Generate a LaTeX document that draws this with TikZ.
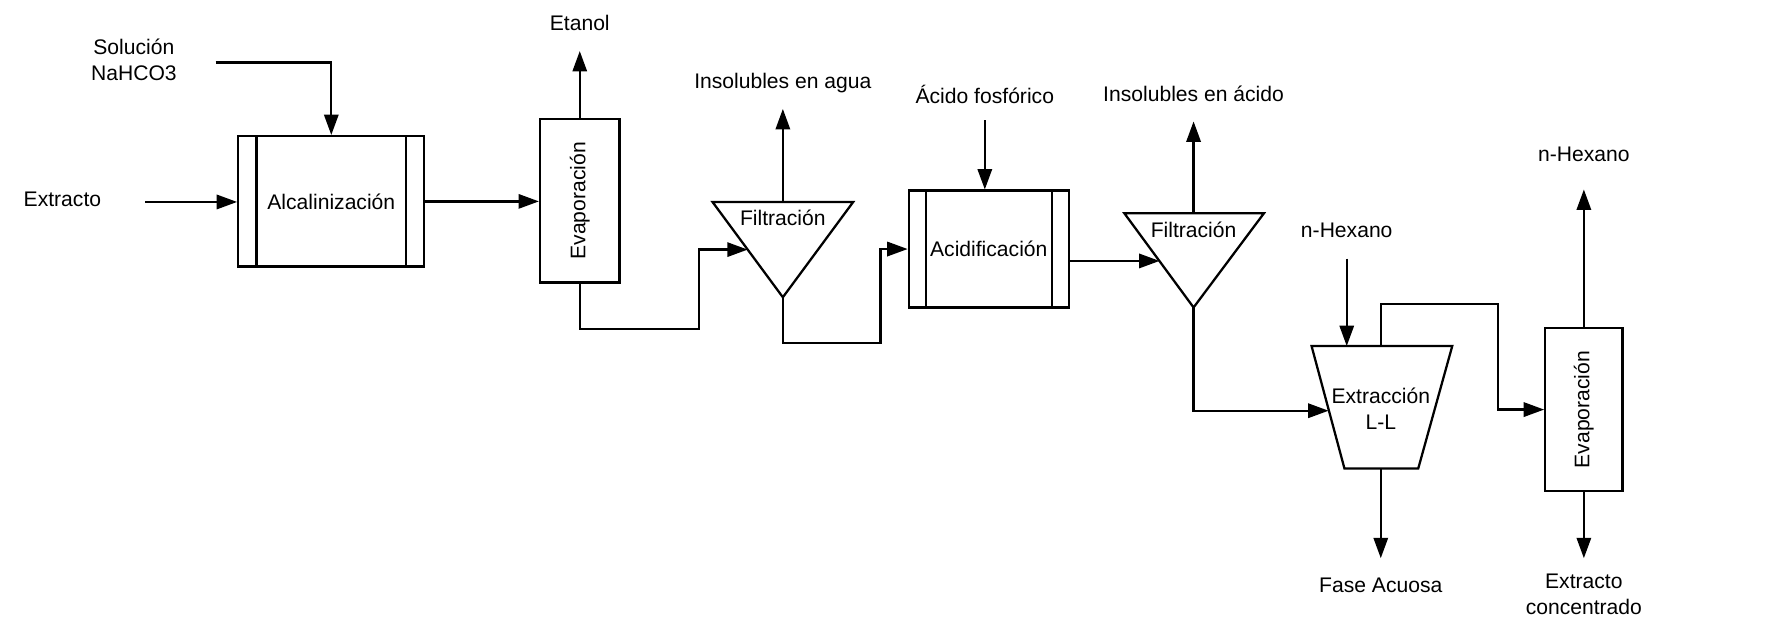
\documentclass[tikz,border=0pt]{standalone}
\usepackage{fontspec}
\setmainfont{Liberation Sans}
\usetikzlibrary{arrows.meta,calc}
\begin{document}
\begin{tikzpicture}[x=0.5pt,y=-0.5pt,
  line width=1pt,
  flow/.style={-{Triangle[length=9pt,width=6.3pt]}},
  lbl/.style={font=\fontsize{9.3}{11.5}\selectfont, align=center, inner sep=0pt},
  unit/.style={draw, line width=1pt, inner sep=0pt, font=\fontsize{9.3}{11.5}\selectfont, align=center},
]
\useasboundingbox (0,0) rectangle (1568,557);

% units
\node[unit, minimum width=82pt, minimum height=57.5pt] (alc) at (292,177.5) {Alcalinizaci\'on};
\draw ($(alc.north west)+(17,0)$) -- ($(alc.south west)+(17,0)$);
\draw ($(alc.north east)+(-17,0)$) -- ($(alc.south east)+(-17,0)$);

\node[unit, minimum width=35pt, minimum height=72pt] (ev1) at (511,177) {};
\node[lbl, rotate=90] (ev1t) at (ev1) {Evaporaci\'on};

\node[unit, minimum width=70.5pt, minimum height=51.5pt] (acid) at (871.5,219.5) {Acidificaci\'on};
\draw ($(acid.north west)+(16,0)$) -- ($(acid.south west)+(16,0)$);
\draw ($(acid.north east)+(-16,0)$) -- ($(acid.south east)+(-16,0)$);

\node[unit, minimum width=34pt, minimum height=72pt] (ev2) at (1396,361) {};
\node[lbl, rotate=90] (ev2t) at (ev2) {Evaporaci\'on};

% filter 1
\coordinate (f1tl) at (628,178);
\coordinate (f1tr) at (752,178);
\coordinate (f1b) at (690,262);
\coordinate (f1top) at (690,178);
\coordinate (f1in) at (659,220);
\draw (f1tl) -- (f1tr) -- (f1b) -- cycle;
\node[lbl] (f1) at (690,192) {Filtraci\'on};

% filter 2
\coordinate (f2tl) at (991,188);
\coordinate (f2tr) at (1114,188);
\coordinate (f2b) at (1052,271);
\coordinate (f2top) at (1052,188);
\coordinate (f2in) at (1022,230);
\draw (f2tl) -- (f2tr) -- (f2b) -- cycle;
\node[lbl] (f2) at (1052,203) {Filtraci\'on};

% extraction
\coordinate (xtl) at (1156,305);
\coordinate (xtr) at (1280,305);
\coordinate (xbr) at (1250,413);
\coordinate (xbl) at (1185,413);
\coordinate (xin) at (1171,362);
\coordinate (xtop) at (1217,305);
\coordinate (xtin) at (1187,305);
\coordinate (xbot) at (1217,413);
\draw (xtl) -- (xtr) -- (xbr) -- (xbl) -- cycle;
\node[lbl] (xt) at (1217,360) {Extracci\'on\\L-L};

% labels
\node[lbl] (lext) at (55,176) {Extracto};
\node[lbl] (lsol) at (118,53) {Soluci\'on\\NaHCO3};
\node[lbl] (leta) at (511,20) {Etanol};
\node[lbl] (lins1) at (690,73) {Insolubles en agua};
\node[lbl] (lacf) at (868,83) {\'Acido fosf\'orico};
\node[lbl] (lins2) at (1052,83) {Insolubles en \'acido};
\node[lbl] (lhx1) at (1187,203) {n-Hexano};
\node[lbl] (lhx2) at (1396,136) {n-Hexano};
\node[lbl] (lfase) at (1217,516) {Fase Acuosa};
\node[lbl] (lconc) at (1396,524) {Extracto\\concentrado};

% connector ends
\coordinate (exs) at (128,178);
\coordinate (sols) at (190,55);
\coordinate (etae) at (511,45);
\coordinate (c1) at (616,290);
\coordinate (ins1e) at (690,96);
\coordinate (c2) at (776,302);
\coordinate (acs) at (868,106);
\coordinate (ins2e) at (1052,107);
\coordinate (hxs) at (1187,228);
\coordinate (c3) at (1320,268);
\coordinate (hx2e) at (1396,167);
\coordinate (conce) at (1396,492);
\coordinate (fasee) at (1217,492);

% connectors
\draw[flow] (exs) -- (exs -| alc.west);
\draw[flow] (sols) -| (alc.north);
\draw[flow] (alc.east) -- (alc.east -| ev1.west);
\draw[flow] (ev1.north) -- (etae);
\draw[flow] (ev1.south) |- (c1) |- (f1in);
\draw[flow] (f1top) -- (ins1e);
\draw[flow] (f1b) |- (c2) |- (acid.west);
\draw[flow] (acs) -- (acs |- acid.north);
\draw[flow] (acid.east |- f2in) -- (f2in);
\draw[flow] (f2top) -- (ins2e);
\draw[flow] (f2b) |- (xin);
\draw[flow] (hxs) -- (xtin);
\draw[flow] (xtop) |- (c3) |- (ev2.west);
\draw[flow] (ev2.north) -- (hx2e);
\draw[flow] (ev2.south) -- (conce);
\draw[flow] (xbot) -- (fasee);
\end{tikzpicture}
\end{document}
